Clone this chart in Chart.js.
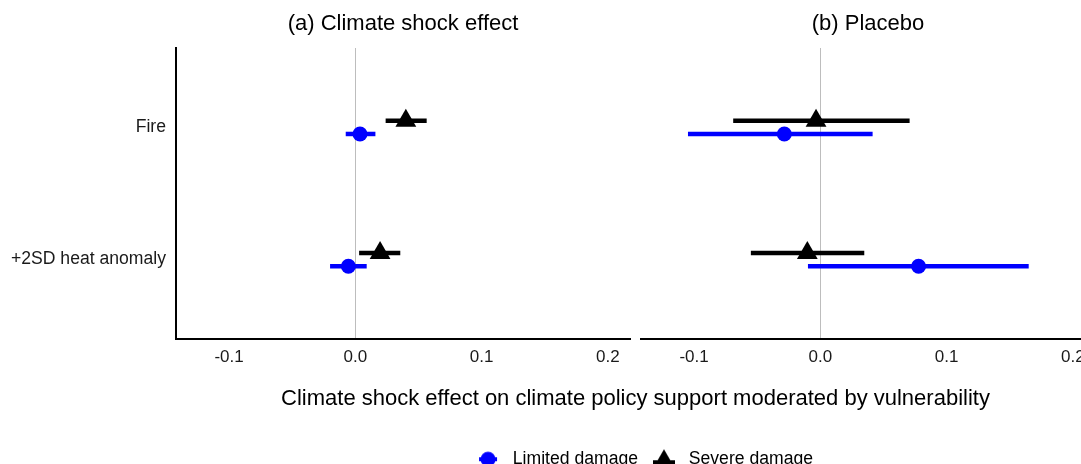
<!DOCTYPE html>
<html><head><meta charset="utf-8">
<script src="https://cdn.jsdelivr.net/npm/chart.js@4.4.1/dist/chart.umd.min.js"></script>
<style>
html,body{margin:0;padding:0;background:#fff;overflow:hidden}
#wrap{position:relative;width:1081px;height:464px;overflow:hidden;background:#fff}
#wrap canvas{position:absolute;top:0}
</style></head><body>
<div id="wrap">
<canvas id="cC" width="1100" height="478" style="left:0;z-index:0"></canvas>
<canvas id="cA" width="636" height="380" style="left:0;z-index:1"></canvas>
<canvas id="cB" width="464" height="380" style="left:636px;z-index:1"></canvas>
</div>
<script>
// ---- data ----
const categories = ['+2SD heat anomaly', 'Fire'];
const seriesNames = ['Limited damage', 'Severe damage'];
const xTicks = [-0.1, 0.0, 0.1, 0.2];
const panelTitles = ['(a) Climate shock effect', '(b) Placebo'];
const xAxisTitle = 'Climate shock effect on climate policy support moderated by vulnerability';
// Panel (a) climate shock effect
const shockLimitedEst  = [-0.0055, 0.0037];
const shockLimitedLow  = [-0.0200, -0.0076];
const shockLimitedHigh = [0.0090, 0.0159];
const shockSevereEst   = [0.0196, 0.0400];
const shockSevereLow   = [0.0030, 0.0240];
const shockSevereHigh  = [0.0356, 0.0565];
// Panel (b) placebo
const placeboLimitedEst  = [0.0778, -0.0285];
const placeboLimitedLow  = [-0.0098, -0.1048];
const placeboLimitedHigh = [0.1650, 0.0414];
const placeboSevereEst   = [-0.0103, -0.0034];
const placeboSevereLow   = [-0.0550, -0.0690];
const placeboSevereHigh  = [0.0348, 0.0707];

// ---- styles ----
const FONT = "'Liberation Sans', Arial, Helvetica, sans-serif";
Chart.defaults.font.family = FONT;
const BLUE = '#0000ff', BLACK = '#000000';
const TEXT = '#1a1a1a';
const styleLimited = {name: seriesNames[0], color: BLUE, style: 'circle', radius: 7.5, offset: -0.05};
const styleSevere  = {name: seriesNames[1], color: BLACK, style: 'triangle', radius: 12, offset: 0.05};

function panelDatasets(list) {
  const ds = [];
  list.forEach(s => {
    ds.push({
      label: s.name, data: s.est.map((v, i) => ({x: v, y: i + 1 + s.offset})),
      pointStyle: s.style, pointRadius: s.radius, pointHoverRadius: s.radius,
      backgroundColor: s.color, borderColor: s.color, pointBorderWidth: 0, showLine: false, order: 0
    });
    s.est.forEach((v, i) => {
      ds.push({
        label: s.name + ' CI', data: [{x: s.low[i], y: i + 1 + s.offset}, {x: s.high[i], y: i + 1 + s.offset}],
        showLine: true, borderColor: s.color, borderWidth: 4.5, pointRadius: 0, pointHoverRadius: 0,
        borderCapStyle: 'butt', order: 1
      });
    });
  });
  return ds;
}

function xScale() {
  return {
    type: 'linear', min: -0.142, max: 0.2175,
    afterBuildTicks: sc => { sc.ticks = xTicks.map(v => ({value: v})); },
    afterFit: sc => { sc.height = 41; },
    ticks: {callback: v => Number(v).toFixed(1), font: {size: 17}, color: TEXT, padding: 8.5, maxRotation: 0, autoSkip: false},
    grid: {drawTicks: false, lineWidth: 1,
      color: c => (c.tick && Math.abs(c.tick.value) < 1e-9) ? '#bdbdbd' : 'rgba(0,0,0,0)'},
    border: {display: true, color: '#000', width: 2}
  };
}
function yScale(show) {
  return {
    type: 'linear', min: 0.4, max: 2.6, display: show,
    afterBuildTicks: sc => { sc.ticks = categories.map((c, i) => ({value: i + 1})); },
    afterFit: sc => { if (show) sc.width = 176; },
    ticks: {callback: v => categories[Math.round(v) - 1], font: {size: 17.6}, color: TEXT, padding: 10, autoSkip: false},
    grid: {display: false, drawTicks: false},
    border: {display: show, color: '#000', width: 2}
  };
}
function titleOpts(t) {
  return {display: true, text: t, fullSize: false, font: {size: 22, weight: 'normal'}, color: '#000',
          padding: {top: 10.5, bottom: 11.1}};
}

new Chart(document.getElementById('cA'), {
  type: 'scatter',
  data: {datasets: panelDatasets([
    Object.assign({est: shockLimitedEst, low: shockLimitedLow, high: shockLimitedHigh}, styleLimited),
    Object.assign({est: shockSevereEst, low: shockSevereLow, high: shockSevereHigh}, styleSevere)
  ])},
  options: {
    responsive: false, animation: false, events: [],
    layout: {autoPadding: false, padding: {left: 0, right: 6, top: 0, bottom: 0}},
    scales: {x: xScale(), y: yScale(true)},
    plugins: {legend: {display: false}, tooltip: {enabled: false}, title: titleOpts(panelTitles[0])}
  }
});

new Chart(document.getElementById('cB'), {
  type: 'scatter',
  data: {datasets: panelDatasets([
    Object.assign({est: placeboLimitedEst, low: placeboLimitedLow, high: placeboLimitedHigh}, styleLimited),
    Object.assign({est: placeboSevereEst, low: placeboSevereLow, high: placeboSevereHigh}, styleSevere)
  ])},
  options: {
    responsive: false, animation: false, events: [],
    layout: {autoPadding: false, padding: {left: 5, right: 5, top: 0, bottom: 0}},
    scales: {x: xScale(), y: yScale(false)},
    plugins: {legend: {display: false}, tooltip: {enabled: false}, title: titleOpts(panelTitles[1])}
  }
});

// legend keys (point + interval glyph)
function makeKey(kind, color) {
  const c = document.createElement('canvas');
  c.width = 32; c.height = 24;
  const g = c.getContext('2d');
  g.fillStyle = color; g.strokeStyle = color; g.lineWidth = 4;
  if (kind === 'circle') {
    g.beginPath(); g.moveTo(7, 12); g.lineTo(25, 12); g.stroke();
    g.beginPath(); g.arc(16, 12, 7.5, 0, Math.PI * 2); g.fill();
  } else {
    g.beginPath(); g.moveTo(5, 15); g.lineTo(27, 15); g.stroke();
    const r = 10;
    g.beginPath(); g.moveTo(16, 12 - r); g.lineTo(16 + r * 0.866, 12 + r * 0.5); g.lineTo(16 - r * 0.866, 12 + r * 0.5); g.closePath(); g.fill();
  }
  return c;
}
const keyImages = [makeKey(styleLimited.style, BLUE), makeKey(styleSevere.style, BLACK)];

new Chart(document.getElementById('cC'), {
  type: 'scatter',
  data: {datasets: seriesNames.map((n, i) => ({label: n, data: [], backgroundColor: i ? BLACK : BLUE}))},
  options: {
    responsive: false, animation: false, events: [],
    layout: {autoPadding: false, padding: {left: 190, right: 5, top: 0, bottom: 0}},
    scales: {
      x: {type: 'linear', display: true, grid: {display: false, drawTicks: false}, border: {display: false},
          ticks: {display: false},
          title: {display: true, text: xAxisTitle, font: {size: 22}, color: '#000', padding: {top: 0, bottom: 28.5}}},
      y: {position: 'right', display: true, grid: {display: false, drawTicks: false}, border: {display: false},
          ticks: {display: false}, afterFit: sc => { sc.width = 14; }}
    },
    plugins: {
      tooltip: {enabled: false},
      legend: {position: 'bottom', labels: {
        usePointStyle: true, pointStyleWidth: 32, font: {size: 17.6}, color: '#000', padding: 10,
        generateLabels: () => seriesNames.map((n, i) => ({
          text: n, pointStyle: keyImages[i], fillStyle: i ? BLACK : BLUE, strokeStyle: i ? BLACK : BLUE,
          lineWidth: 0, hidden: false, datasetIndex: i, fontColor: '#000'
        }))
      }}
    }
  }
});
</script>
</body></html>
